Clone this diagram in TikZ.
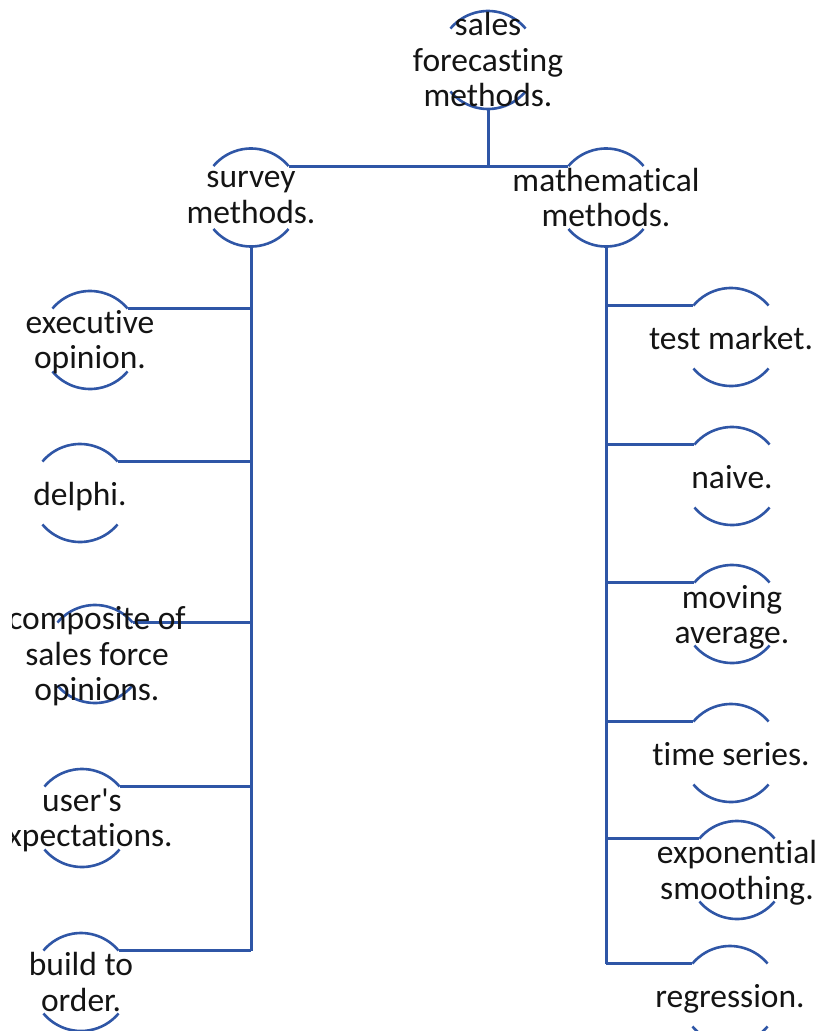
\documentclass[tikz,border=0pt]{standalone}
\usepackage{fontspec}
\setmainfont{Carlito}[Ligatures={CommonOff,TeXOff}]
\definecolor{linkblue}{HTML}{2F56A6}
% line break that keeps every line at full strut height
\newcommand\nl{\\\strut}
\tikzset{
  ring/.style={circle, minimum size=98pt, inner sep=0pt, outer sep=0pt},
  lbl/.style={align=center, inner sep=0pt, text=black!92, yshift=-5pt,
    font=\fontsize{33.5}{35.5}\selectfont, execute at begin node=\strut},
  rim/.style={draw=linkblue, line width=2.6pt},
  link/.style={draw=linkblue, line width=3pt},
}
\begin{document}
\begin{tikzpicture}[x=1pt,y=1pt]
\useasboundingbox (0,0) rectangle (823,-1031);
\begin{scope}
\clip (12,0) rectangle (823,-1031);

% rings (only the upper and lower arcs are drawn)
\node[ring] (top)    at (488,-60)    {};
\node[ring] (survey) at (251,-197.5) {};
\node[ring] (math)   at (606,-197.5) {};
\node[ring] (exec)   at (90,-340)    {};
\node[ring] (delphi) at (80,-493)    {};
\node[ring] (comp)   at (95,-654)    {};
\node[ring] (user)   at (82,-818)    {};
\node[ring] (build)  at (81,-982)    {};
\node[ring] (test)   at (731,-337)   {};
\node[ring] (naive)  at (732,-476)   {};
\node[ring] (moving) at (732,-614)   {};
\node[ring] (time)   at (731,-753)   {};
\node[ring] (expo)   at (737,-870)   {};
\node[ring] (regr)   at (730,-995)   {};

\foreach \n in {top,survey,math,exec,delphi,comp,user,build,test,naive,moving,time,expo,regr}
  \draw[rim] (\n.40) arc[start angle=40,end angle=140,radius=49pt]
             (\n.220) arc[start angle=220,end angle=320,radius=49pt];

% connectors
\draw[link] (top.south) -- (top.south |- survey.40);
\draw[link] (survey.40) -- (math.140);
\draw[link] (survey.south) -- (survey.south |- build.40);
\foreach \n in {exec,delphi,comp,user,build}
  \draw[link] (\n.40) -- (\n.40 -| survey.south);
\draw[link] (math.south) -- (math.south |- regr.140);
\foreach \n in {test,naive,moving,time,expo,regr}
  \draw[link] (\n.140) -- (\n.140 -| math.south);

% labels
\node[lbl] (top-t)    at (top)    {sales\nl forecasting\nl methods.};
\node[lbl] (survey-t) at (survey) {survey\nl methods.};
\node[lbl] (math-t)   at (math)   {mathematical\nl methods.};
\node[lbl] (exec-t)   at (exec)   {executive\nl opinion.};
\node[lbl] (delphi-t) at (delphi) {delphi.};
\node[lbl] (comp-t)   at ([xshift=2pt]comp) {composite of\nl sales force\nl opinions.};
\node[lbl] (user-t)   at (user)   {user's\nl expectations.};
\node[lbl] (build-t)  at (build)  {build to\nl order.};
\node[lbl] (test-t)   at (test)   {test market.};
\node[lbl] (naive-t)  at (naive)  {naive.};
\node[lbl] (moving-t) at ([yshift=-1pt]moving) {moving\nl average.};
\node[lbl] (time-t)   at (time)   {time series.};
\node[lbl] (expo-t)   at (expo)   {exponential\nl smoothing.};
\node[lbl] (regr-t)   at (regr)   {regression.};
\end{scope}
\end{tikzpicture}
\end{document}
